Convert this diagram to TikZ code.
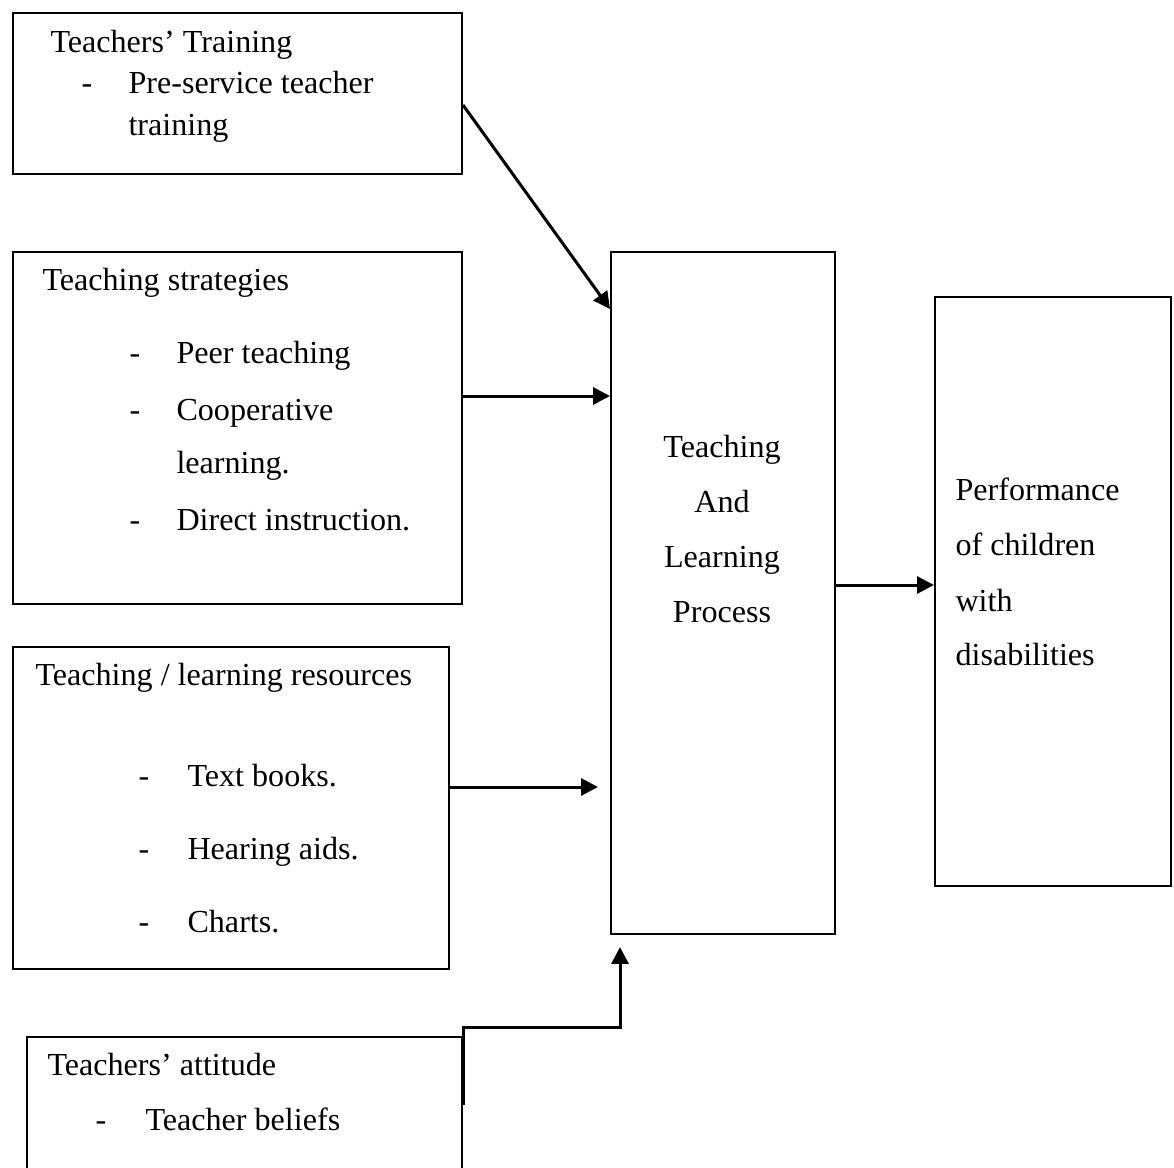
\documentclass[tikz,border=0pt]{standalone}
\usepackage{fontspec}
\setmainfont{Liberation Serif}
\usetikzlibrary{arrows.meta}
\newlength\px
\setlength\px{0.38pt}
\tikzset{bx/.append style={draw, line width=0.76pt, inner sep=0, anchor=north west}}
\tikzset{tx/.append style={inner sep=0, anchor=base west, font=\fontsize{12.2}{14}\selectfont}}
\tikzset{tc/.append style={tx, anchor=base}}
\tikzset{ar/.append style={line width=1.14pt, -{Triangle[length=6.4pt,width=6.4pt]}}}

\begin{document}
\begin{tikzpicture}[x=0.38pt, y=-0.38pt]
                % page
                \path[use as bounding box, clip] (0,0) rectangle (1174,1167);
                % boxes
                \node[bx, minimum width=449*\px, minimum height=161*\px] (tt) at (12,12) {};
                \node[bx, minimum width=449*\px, minimum height=352*\px] (ts) at (12,251) {};
                \node[bx, minimum width=436*\px, minimum height=322*\px] (tr) at (12,646) {};
                \node[bx, minimum width=435*\px, minimum height=200*\px] (ta) at (26,1036) {};
                \node[bx, minimum width=224*\px, minimum height=682*\px] (tl) at (610,251) {};
                \node[bx, minimum width=236*\px, minimum height=589*\px] (pc) at (934,296) {};
                % Teachers' Training
                \node[tx] (tt1) at (50,52) {Teachers’ Training};
                \node[tx] (tt2) at (81,93) {-};
                \node[tx] (tt3) at (128,93) {Pre-service teacher};
                \node[tx] (tt4) at (128,135) {training};
                % Teaching strategies
                \node[tx] (ts1) at (42,290) {Teaching strategies};
                \node[tx] (ts2) at (129,363) {-};
                \node[tx] (ts3) at (176,363) {Peer teaching};
                \node[tx] (ts4) at (129,420) {-};
                \node[tx] (ts5) at (176,420) {Cooperative};
                \node[tx] (ts6) at (176,473) {learning.};
                \node[tx] (ts7) at (129,530) {-};
                \node[tx] (ts8) at (176,530) {Direct instruction.};
                % resources
                \node[tx] (tr1) at (35,685) {Teaching / learning resources};
                \node[tx] (tr2) at (138,786) {-};
                \node[tx] (tr3) at (187,786) {Text books.};
                \node[tx] (tr4) at (138,859) {-};
                \node[tx] (tr5) at (187,859) {Hearing aids.};
                \node[tx] (tr6) at (138,932) {-};
                \node[tx] (tr7) at (187,932) {Charts.};
                % attitude
                \node[tx] (ta1) at (47,1075) {Teachers’ attitude};
                \node[tx] (ta2) at (95,1130) {-};
                \node[tx] (ta3) at (145,1130) {Teacher beliefs};
                % process
                \node[tc] (tl1) at (722,457) {Teaching};
                \node[tc] (tl2) at (722,512) {And};
                \node[tc] (tl3) at (722,567) {Learning};
                \node[tc] (tl4) at (722,622) {Process};
                % performance
                \node[tx] (pc1) at (955,500) {Performance};
                \node[tx] (pc2) at (955,555) {of children};
                \node[tx] (pc3) at (955,611) {with};
                \node[tx] (pc4) at (955,665) {disabilities};
                % arrows
                \draw[ar] (tt.east |- 0,105) -- (tl.west |- 0,309);
                \draw[ar] (ts.east |- 0,396) -- (tl.west |- 0,396);
                \draw[ar] (tr.east |- 0,787) -- ++(148,0);
                \draw[ar] (tl.east |- 0,585) -- (pc.west |- 0,585);
                \draw[ar] (ta.east |- 0,1105) |- (620,1027) -- (620,947);
            \end{tikzpicture}
\end{document}
